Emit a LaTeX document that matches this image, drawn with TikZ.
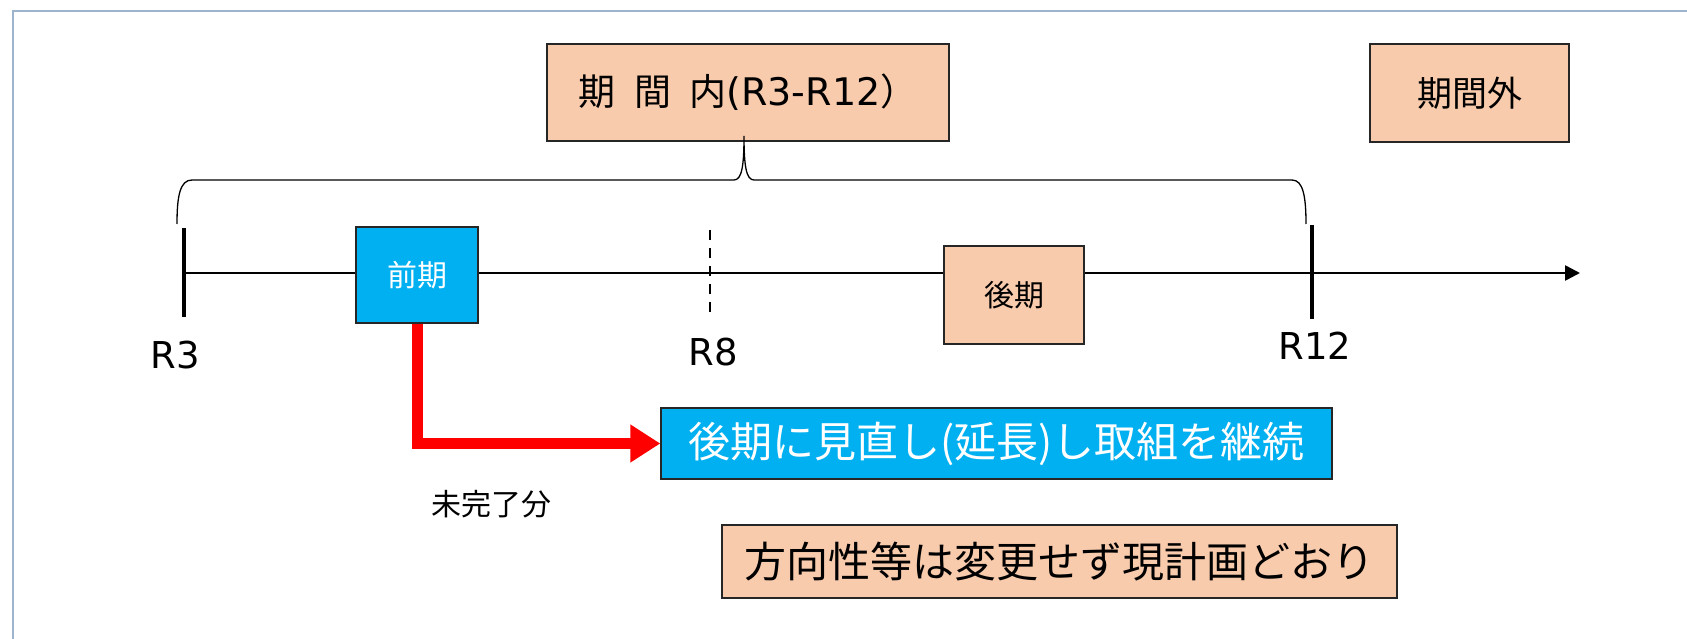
\documentclass[tikz,border=0pt]{standalone}
\usepackage{fontspec}
\setmainfont{Noto Sans CJK JP}
\newfontfamily\latinf{DejaVu Sans}
\usetikzlibrary{arrows.meta}
\definecolor{peach}{HTML}{F8CBAD}
\definecolor{cyanbox}{HTML}{00B0F0}
\definecolor{framecol}{HTML}{9DB5CC}
\newcommand{\fs}[1]{\fontsize{#1}{#1}\selectfont}
\begin{document}
\begin{tikzpicture}[x=1pt,y=-1pt,
  peachbox/.style={draw=black!85, line width=1.3pt, fill=peach, inner sep=0pt, anchor=center},
  bluebox/.style={draw=black!85, line width=1.3pt, fill=cyanbox, text=white, inner sep=0pt, anchor=center},
  tick/.style={line width=3.5pt},
  axisline/.style={line width=2.6pt, -{Triangle[length=15pt,width=15pt]}},
  dashtick/.style={line width=2pt, dash pattern=on 10pt off 8pt},
  bracecurve/.style={line width=1.3pt},
  redarrow/.style={draw=red, line width=11pt, line join=miter, -{Triangle[length=30pt,width=36pt]}},
  lbl/.style={inner sep=0pt, anchor=center}]
\useasboundingbox (0,0) rectangle (1687,639);
% frame
\draw[framecol, line width=2pt] (13,639) -- (13,11) -- (1687,11);
% axis
\coordinate (axstart) at (184,273);
\coordinate (axend) at (1580,273);
\draw[axisline] (axstart) -- (axend);
% ticks
\coordinate (t3a) at (184,228); \coordinate (t3b) at (184,317);
\coordinate (t12a) at (1312,225); \coordinate (t12b) at (1312,319);
\coordinate (t8a) at (710,230); \coordinate (t8b) at (710,312);
\draw[tick] (t3a) -- (t3b);
\draw[tick] (t12a) -- (t12b);
\draw[dashtick] (t8a) -- (t8b);
% labels
\node[lbl] (lr3) at (175,355) {\latinf\fs{37}R3};
\node[lbl] (lr8) at (713,352) {\latinf\fs{37}R8};
\node[lbl] (lr12) at (1315,346) {\latinf\fs{37}R12};
% top boxes
\node[peachbox, minimum width=402pt, minimum height=97pt] (nai) at (748,92.5) {\fs{37}期\hspace{0.5em}間\hspace{0.5em}内{\latinf\fs{38}(R3-R12}）};
\node[peachbox, minimum width=199pt, minimum height=98pt] (gai) at (1469.5,93) {\fs{35}期間外};
% brace
\coordinate (brL) at (177,224);
\coordinate (brR) at (1306,224);
\coordinate (brTip) at (744,136);
\draw[bracecurve] (brL) .. controls (177,196) and (180,180) .. (192,180)
  -- (734,180) .. controls (742,180) and (744,165) .. (brTip)
  .. controls (744,165) and (746,180) .. (754,180)
  -- (1292,180) .. controls (1303,180) and (1306,196) .. (brR);
% period boxes
\node[bluebox, minimum width=122pt, minimum height=96pt] (zenki) at (417,275) {\fs{30}前期};
\node[peachbox, minimum width=140pt, minimum height=98pt] (kouki) at (1014,295) {\fs{30}後期};
% result boxes
\node[bluebox, minimum width=671pt, minimum height=71pt] (minaoshi) at (996.5,443.5) {\fs{42}後期に見直し(延長)し取組を継続};
\node[peachbox, minimum width=675pt, minimum height=73pt] (houkou) at (1059.5,561.5) {\fs{42}方向性等は変更せず現計画どおり};
% unfinished label
\node[lbl] (mikan) at (491,504) {\fs{30}未完了分};
% red arrow
\draw[redarrow] (zenki.south) |- (minaoshi.west);
\end{tikzpicture}
\end{document}
